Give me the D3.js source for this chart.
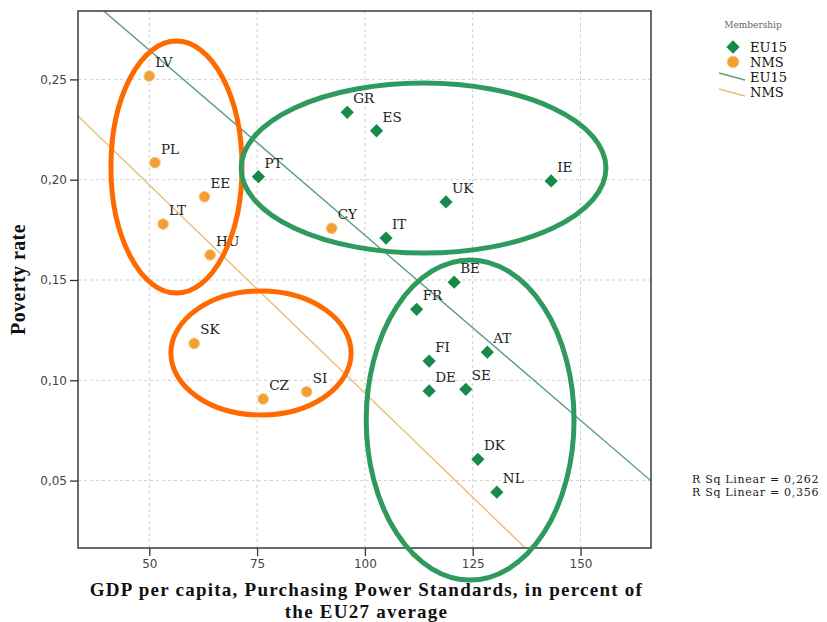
<!DOCTYPE html>
<html>
<head>
<meta charset="utf-8">
<script src="https://cdn.jsdelivr.net/npm/d3@7"></script>
<style>
  body { margin: 0; background: #fff; }
  svg { display: block; }
</style>
</head>
<body>
<svg id="chart" width="827" height="622"></svg>
<script>
// EU15 member states: GDP per capita (PPS, EU27 = 100) and poverty rate
const euCodes    = ["PT", "GR", "ES", "UK", "IT", "IE", "BE", "FR", "AT", "FI", "DE", "SE", "DK", "NL"];
const euGdp      = [75.3, 95.9, 102.7, 118.8, 104.9, 143.2, 120.7, 112.0, 128.4, 114.9, 114.9, 123.4, 126.2, 130.6];
const euPoverty  = [0.2015, 0.2336, 0.2244, 0.1889, 0.1709, 0.1994, 0.1489, 0.1354, 0.1140, 0.1096, 0.0947, 0.0955, 0.0606, 0.0442];

// New member states
const nmsCodes   = ["LV", "PL", "EE", "LT", "HU", "CY", "SK", "CZ", "SI"];
const nmsGdp     = [50.0, 51.3, 62.8, 53.2, 64.1, 92.3, 60.4, 76.4, 86.5];
const nmsPoverty = [0.2517, 0.2085, 0.1915, 0.1779, 0.1625, 0.1758, 0.1184, 0.0907, 0.0943];

// Axes
const xTicks = [50, 75, 100, 125, 150];
const yTicks = [0.05, 0.10, 0.15, 0.20, 0.25];
const xTitleLines = ["GDP per capita, Purchasing Power Standards, in percent of", "the EU27 average"];
const yTitle = "Poverty rate";

// Legend / fit summary
const groups = ["EU15", "NMS"];
const rSqLabels = ["0,262", "0,356"];

// Highlight ellipses around country clusters (centre and radii in data units)
const ellipseGroup = ["NMS", "NMS", "EU15", "EU15"];
const ellipseCx = [56.3, 75.9, 113.6, 124.4];
const ellipseCy = [0.2063, 0.1136, 0.2058, 0.0802];
const ellipseRx = [15.2, 20.9, 42.3, 24.1];
const ellipseRy = [0.0628, 0.0309, 0.0424, 0.0798];

const markerColor = { EU15: "#178a4a", NMS: "#f2a033" };
const fitColor    = { EU15: "#5f9f86", NMS: "#ebbd7c" };
const ringColor   = { EU15: "#2f9a5e", NMS: "#ff6a00" };

const svg = d3.select("#chart");
const plot = { left: 78, right: 651, top: 11, bottom: 548 };

const x = d3.scaleLinear().domain([33.46, 166.35]).range([plot.left, plot.right]);
const y = d3.scaleLinear().domain([0.0164, 0.2841]).range([plot.bottom, plot.top]);
const commaFmt = f => v => d3.format(f)(v).replace(".", ",");

svg.append("defs").append("clipPath").attr("id", "plot-clip")
  .append("rect")
  .attr("x", plot.left).attr("y", plot.top)
  .attr("width", plot.right - plot.left).attr("height", plot.bottom - plot.top);

// Dashed grid
const grid = svg.append("g").attr("stroke", "#cfcfcf").attr("stroke-dasharray", "3,3").attr("stroke-width", 1);
grid.selectAll("line.gx").data(xTicks).join("line").attr("class", "gx")
  .attr("x1", d => x(d)).attr("x2", d => x(d))
  .attr("y1", plot.top).attr("y2", plot.bottom);
grid.selectAll("line.gy").data(yTicks).join("line").attr("class", "gy")
  .attr("y1", d => y(d)).attr("y2", d => y(d))
  .attr("x1", plot.left).attr("x2", plot.right);

// Axes
const xAxis = d3.axisBottom(x).tickValues(xTicks).tickSize(8).tickPadding(3).tickFormat(d3.format("d"));
const yAxis = d3.axisLeft(y).tickValues(yTicks).tickSize(8).tickPadding(3).tickFormat(commaFmt(".2f"));

const gx = svg.append("g").attr("transform", `translate(0,${plot.bottom})`).call(xAxis);
const gy = svg.append("g").attr("transform", `translate(${plot.left},0)`).call(yAxis);
[gx, gy].forEach(g => {
  g.select(".domain").remove();
  g.selectAll(".tick line").attr("stroke", "#333").attr("stroke-width", 1.3);
  g.selectAll(".tick text")
    .attr("font-family", "'DejaVu Sans', sans-serif")
    .attr("font-size", 12)
    .attr("fill", "#444");
});

// Least-squares fit per group
function fit(xs, ys) {
  const mx = d3.mean(xs), my = d3.mean(ys);
  let sxy = 0, sxx = 0;
  xs.forEach((v, i) => { sxy += (v - mx) * (ys[i] - my); sxx += (v - mx) * (v - mx); });
  const slope = sxy / sxx;
  return { slope, intercept: my - slope * mx };
}
const fits = {
  EU15: fit(euGdp, euPoverty),
  NMS: fit(nmsGdp, nmsPoverty)
};

const fitLayer = svg.append("g").attr("clip-path", "url(#plot-clip)");
groups.forEach(gname => {
  const f = fits[gname];
  const [x0, x1] = x.domain();
  fitLayer.append("line")
    .attr("x1", x(x0)).attr("y1", y(f.intercept + f.slope * x0))
    .attr("x2", x(x1)).attr("y2", y(f.intercept + f.slope * x1))
    .attr("stroke", fitColor[gname]).attr("stroke-width", 1.4);
});

// Frame
svg.append("rect")
  .attr("x", plot.left).attr("y", plot.top)
  .attr("width", plot.right - plot.left).attr("height", plot.bottom - plot.top)
  .attr("fill", "none").attr("stroke", "#3a3a3a").attr("stroke-width", 1.5);

// Points
const nmsData = nmsCodes.map((c, i) => ({ code: c, gdp: nmsGdp[i], pov: nmsPoverty[i] }));
const euData = euCodes.map((c, i) => ({ code: c, gdp: euGdp[i], pov: euPoverty[i] }));

svg.append("g").selectAll("circle").data(nmsData).join("circle")
  .attr("cx", d => x(d.gdp)).attr("cy", d => y(d.pov)).attr("r", 5.3)
  .attr("fill", markerColor.NMS).attr("stroke", "#f7c47a").attr("stroke-width", 1);

const diamond = d3.symbol(d3.symbolSquare, 88)();
svg.append("g").selectAll("path").data(euData).join("path")
  .attr("d", diamond)
  .attr("transform", d => `translate(${x(d.gdp)},${y(d.pov)}) rotate(45)`)
  .attr("fill", markerColor.EU15);

// Country labels
svg.append("g")
  .attr("font-family", "'DejaVu Serif', serif").attr("font-size", 13.5).attr("fill", "#222")
  .selectAll("text").data(nmsData.concat(euData)).join("text")
  .attr("x", d => x(d.gdp) + 6).attr("y", d => y(d.pov) - 9)
  .text(d => d.code);

// Cluster ellipses
svg.append("g").selectAll("ellipse").data(ellipseCx.map((cx, i) => i)).join("ellipse")
  .attr("cx", i => x(ellipseCx[i]))
  .attr("cy", i => y(ellipseCy[i]))
  .attr("rx", i => x(ellipseCx[i] + ellipseRx[i]) - x(ellipseCx[i]))
  .attr("ry", i => y(ellipseCy[i] - ellipseRy[i]) - y(ellipseCy[i]))
  .attr("fill", "none")
  .attr("stroke", i => ringColor[ellipseGroup[i]])
  .attr("stroke-width", 5);

// Axis titles
const xt = svg.append("text")
  .attr("text-anchor", "middle")
  .attr("font-family", "'Liberation Serif', 'Times New Roman', serif")
  .attr("font-weight", "bold").attr("font-size", 19)
  .attr("letter-spacing", 1.25)
  .attr("fill", "#111");
xTitleLines.forEach((t, i) => {
  xt.append("tspan").attr("x", (plot.left + plot.right) / 2 + 2).attr("y", 596 + i * 22).text(t);
});

svg.append("text")
  .attr("transform", `translate(25,${(plot.top + plot.bottom) / 2}) rotate(-90)`)
  .attr("text-anchor", "middle")
  .attr("font-family", "'Liberation Serif', 'Times New Roman', serif")
  .attr("font-weight", "bold").attr("font-size", 20)
  .attr("letter-spacing", 0.4)
  .attr("fill", "#111")
  .text(yTitle);

// Legend
const lg = svg.append("g").attr("font-family", "'DejaVu Serif', serif");
lg.append("text").attr("x", 753).attr("y", 28).attr("text-anchor", "middle")
  .attr("font-size", 9).attr("fill", "#666").text("Membership");
const legendText = (label, yy) => lg.append("text").attr("x", 750).attr("y", yy)
  .attr("font-size", 13).attr("fill", "#111").text(label);

lg.append("path").attr("d", diamond).attr("transform", "translate(733,47) rotate(45)")
  .attr("fill", markerColor.EU15);
legendText(groups[0], 52);
lg.append("circle").attr("cx", 733).attr("cy", 62).attr("r", 5.8)
  .attr("fill", markerColor.NMS).attr("stroke", "#f7c47a");
legendText(groups[1], 67);
lg.append("line").attr("x1", 719).attr("y1", 73).attr("x2", 745).attr("y2", 80)
  .attr("stroke", fitColor.EU15).attr("stroke-width", 1.4);
legendText(groups[0], 82);
lg.append("line").attr("x1", 719).attr("y1", 89).attr("x2", 745).attr("y2", 96)
  .attr("stroke", fitColor.NMS).attr("stroke-width", 1.4);
legendText(groups[1], 97);

// Fit quality
svg.append("g").attr("font-family", "'DejaVu Serif', serif").attr("font-size", 11)
  .attr("letter-spacing", 0.7).attr("fill", "#222")
  .selectAll("text").data(rSqLabels).join("text")
  .attr("x", 692).attr("y", (d, i) => 483 + i * 13)
  .text(d => `R Sq Linear = ${d}`);
</script>
</body>
</html>
